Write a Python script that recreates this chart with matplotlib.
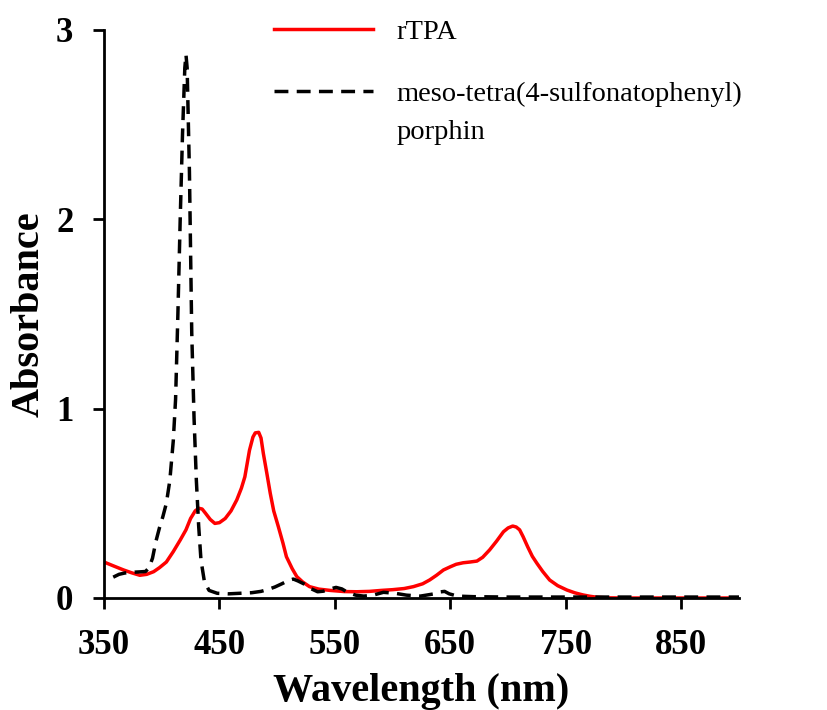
import matplotlib
matplotlib.use("Agg")
import matplotlib.pyplot as plt
import numpy as np

# rTPA spectrum
rtpa_wl = [350, 358, 367, 374, 381, 387, 393, 398, 404, 410, 416, 421, 425, 429, 432,
           435, 438, 442, 446, 450, 455, 460, 465, 469, 472, 476, 479, 481, 484, 486,
           488, 491, 494, 497, 501, 505, 508, 513, 517, 522, 528, 536, 546, 558, 569,
           580, 590, 600, 610, 618, 626, 632, 638, 644, 650, 655, 661, 667, 673, 678,
           684, 690, 696, 700, 704, 707, 710, 713, 717, 721, 725, 730, 736, 743, 751,
           758, 765, 771, 777, 785, 800, 850, 900]
rtpa_abs = [0.19, 0.17, 0.148, 0.133, 0.12, 0.125, 0.139, 0.16, 0.19, 0.245, 0.306, 0.36, 0.42, 0.46, 0.474,
            0.47, 0.447, 0.415, 0.394, 0.398, 0.42, 0.46, 0.518, 0.58, 0.64, 0.78, 0.85, 0.872, 0.875, 0.845,
            0.764, 0.66, 0.553, 0.46, 0.377, 0.29, 0.218, 0.155, 0.113, 0.085, 0.06, 0.047, 0.04, 0.034, 0.033,
            0.035, 0.04, 0.044, 0.05, 0.06, 0.075, 0.095, 0.12, 0.148, 0.165, 0.178, 0.186, 0.19, 0.195, 0.215,
            0.254, 0.3, 0.35, 0.37, 0.38, 0.375, 0.36, 0.324, 0.27, 0.22, 0.183, 0.14, 0.095, 0.065, 0.042,
            0.027, 0.016, 0.009, 0.004, 0.001, 0.0, 0.0, 0.0]

# meso-tetra(4-sulfonatophenyl) porphin spectrum
tpps_wl = [358, 363, 368, 375, 381, 386, 389, 392, 395, 398, 401, 404, 407, 410, 412,
           414, 416, 418, 420, 421, 422, 424, 426, 428, 430, 432, 434, 437, 441, 448,
           458, 468, 478, 486, 492, 498, 504, 510, 514, 518, 523, 529, 535, 540, 546,
           551, 556, 561, 568, 575, 583, 592, 602, 612, 624, 636, 641, 645, 649, 656,
           670, 700, 750, 800, 850, 900]
tpps_abs = [0.11, 0.125, 0.132, 0.136, 0.138, 0.14, 0.16, 0.21, 0.3, 0.37, 0.43, 0.5, 0.62, 0.83, 1.05,
            1.5, 2.0, 2.45, 2.8, 2.87, 2.8, 2.25, 1.4, 0.95, 0.62, 0.38, 0.2, 0.085, 0.04, 0.025,
            0.022, 0.025, 0.028, 0.035, 0.045, 0.058, 0.075, 0.093, 0.1, 0.09, 0.075, 0.05, 0.033, 0.036, 0.048,
            0.056, 0.048, 0.03, 0.015, 0.01, 0.015, 0.03, 0.025, 0.015, 0.01, 0.022, 0.032, 0.035, 0.022, 0.01,
            0.007, 0.005, 0.005, 0.005, 0.005, 0.005]

x_ticks = [350, 450, 550, 650, 750, 850]
y_ticks = [0, 1, 2, 3]

fig = plt.figure(figsize=(8.27, 7.10), dpi=100)
ax = fig.add_axes([104 / 827, 112 / 710, 635 / 827, 568 / 710])

ax.plot(rtpa_wl, rtpa_abs, color="#ff0000", lw=2.5, label="rTPA")
ax.plot(tpps_wl, tpps_abs, color="black", lw=2.5, dashes=(4.0, 2.4),
        label="meso-tetra(4-sulfonatophenyl)\nporphin")

ax.set_xlim(350, 900)
ax.set_ylim(0, 3)
ax.set_xticks(x_ticks)
ax.set_yticks(y_ticks)

for s in ["top", "right"]:
    ax.spines[s].set_visible(False)
for s in ["left", "bottom"]:
    ax.spines[s].set_linewidth(2.0)

ax.tick_params(direction="out", length=8, width=2.0, pad=14)
for lab in ax.get_xticklabels() + ax.get_yticklabels():
    lab.set_fontfamily("Liberation Serif")
    lab.set_fontweight("bold")
    lab.set_fontsize(25)

ax.set_xlabel("Wavelength (nm)", fontfamily="Liberation Serif", fontweight="bold",
              fontsize=29, labelpad=8)
ax.set_ylabel("Absorbance", fontfamily="Liberation Serif", fontweight="bold",
              fontsize=29, labelpad=6)

leg = ax.legend(loc="upper left", bbox_to_anchor=(0.227, 1.065), frameon=False,
                prop={"family": "Liberation Serif", "size": 20.5},
                handlelength=3.5, handletextpad=0.8, labelspacing=1.29)
for t in leg.get_texts():
    t.set_linespacing(1.72)
# keep the dashed handle level with the first line of its label
dash_handle = leg.get_lines()[1]
dash_handle.set_ydata(np.asarray(dash_handle.get_ydata()) + 16)

fig.savefig("out.png", dpi=100)
